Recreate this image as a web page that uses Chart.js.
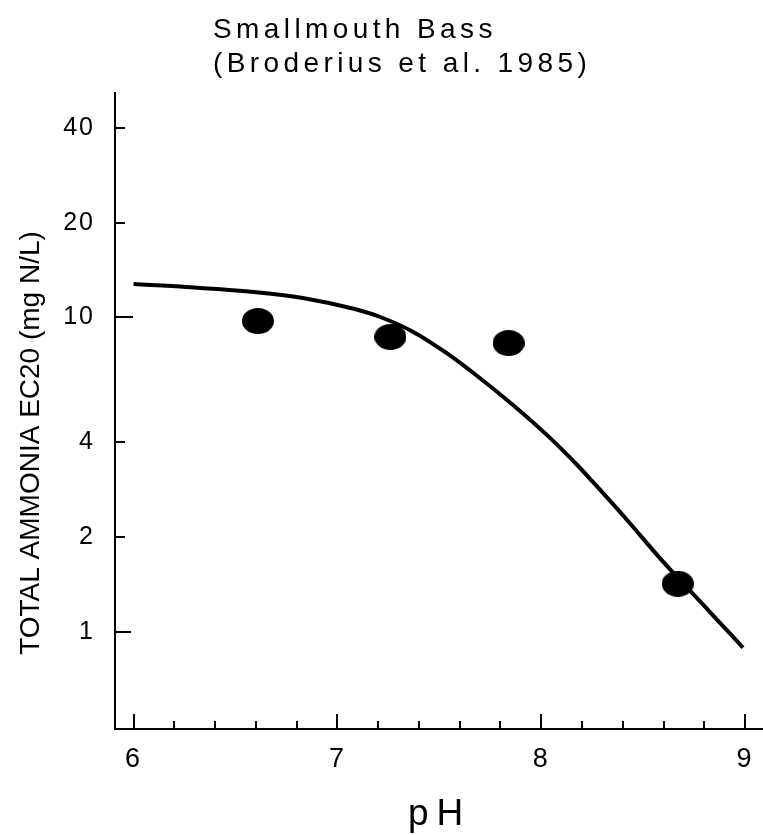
<!DOCTYPE html>
<html>
<head>
<meta charset="utf-8">
<script src="https://cdn.jsdelivr.net/npm/chart.js@4.4.1/dist/chart.umd.min.js"></script>
<style>
  html, body { margin: 0; padding: 0; background: #fff; }
  #wrap { position: relative; width: 763px; height: 835px; }
</style>
</head>
<body>
<div id="wrap"><canvas id="chart"></canvas></div>
<script>
// observed EC20 values (Broderius et al. 1985)
const obsPH = [6.61, 7.26, 7.84, 8.67];
const obsEC20 = [9.73, 8.66, 8.28, 1.42];

// fitted curve
const curvePH = [6.0, 6.26, 6.59, 6.83, 7.08, 7.21, 7.37, 7.54, 7.70, 7.86, 8.03, 8.18, 8.25, 8.42, 8.58, 8.83, 8.99];
const curveEC20 = [12.76, 12.49, 12.04, 11.52, 10.64, 10.02, 9.00, 7.66, 6.40, 5.27, 4.21, 3.37, 3.01, 2.27, 1.72, 1.15, 0.89];

const xMajorTicks = [6, 7, 8, 9];
const xMinorTicks = [6.2, 6.4, 6.6, 6.8, 7.2, 7.4, 7.6, 7.8, 8.2, 8.4, 8.6, 8.8];
const yTicks = [1, 2, 4, 10, 20, 40];

const titleLines = ["Smallmouth Bass", "(Broderius et al. 1985)"];
const yTitle = "TOTAL AMMONIA EC20 (mg N/L)";
const xTitle = "pH";

const FONT = "'Liberation Sans', Arial, sans-serif";

// the dots in the scan are a bit wider than tall
function makeDot(w, h) {
  const c = document.createElement("canvas");
  c.width = w;
  c.height = h;
  const g = c.getContext("2d");
  g.fillStyle = "#000";
  g.beginPath();
  g.ellipse(w / 2, h / 2, w / 2, h / 2, 0, 0, Math.PI * 2);
  g.fill();
  return c;
}
const dot = makeDot(32, 26);

const textPlugin = {
  id: "texts",
  beforeDraw(chart) {
    // tick labels in the scan are spaced out a little
    chart.ctx.letterSpacing = "2px";
  },
  afterDraw(chart) {
    const ctx = chart.ctx;
    const area = chart.chartArea;
    ctx.save();
    ctx.fillStyle = "#000";
    ctx.textAlign = "left";
    ctx.textBaseline = "alphabetic";

    ctx.font = "28px " + FONT;
    ctx.letterSpacing = "4.4px";
    ctx.fillText(titleLines[0], 213, 38);
    ctx.fillText(titleLines[1], 213, 72);

    ctx.font = "37px " + FONT;
    ctx.letterSpacing = "8px";
    ctx.fillText(xTitle, 408, 825);

    ctx.font = "28px " + FONT;
    ctx.letterSpacing = "0px";
    ctx.textAlign = "center";
    ctx.textBaseline = "middle";
    ctx.translate(31, 443);
    ctx.rotate(-Math.PI / 2);
    ctx.fillText(yTitle, 0, 0);
    ctx.restore();

    // inward tick marks on both axes
    const xs = chart.scales.x, ys = chart.scales.y;
    ctx.save();
    ctx.strokeStyle = "#000";
    ctx.lineWidth = 2;
    ctx.beginPath();
    xMajorTicks.forEach(v => {
      const px = Math.round(xs.getPixelForValue(v));
      ctx.moveTo(px, area.bottom);
      ctx.lineTo(px, area.bottom - 15);
    });
    xMinorTicks.forEach(v => {
      const px = Math.round(xs.getPixelForValue(v));
      ctx.moveTo(px, area.bottom);
      ctx.lineTo(px, area.bottom - 8);
    });
    yTicks.forEach(v => {
      const py = Math.round(ys.getPixelForValue(v));
      const len = v === 10 ? 18 : (v === 1 ? 16 : 10);
      ctx.moveTo(area.left, py);
      ctx.lineTo(area.left + len, py);
    });
    ctx.stroke();
    ctx.restore();
  }
};

new Chart(document.getElementById("chart"), {
  data: {
    datasets: [
      {
        type: "line",
        data: curvePH.map((x, i) => ({ x: x, y: curveEC20[i] })),
        borderColor: "#000",
        borderWidth: 4,
        pointRadius: 0,
        cubicInterpolationMode: "monotone",
        fill: false
      },
      {
        type: "scatter",
        data: obsPH.map((x, i) => ({ x: x, y: obsEC20[i] })),
        pointStyle: dot,
        pointRadius: 13,
        pointHoverRadius: 13
      }
    ]
  },
  options: {
    responsive: true,
    maintainAspectRatio: false,
    animation: false,
    events: [],
    layout: { autoPadding: false, padding: { top: 93, right: 0, left: 0, bottom: 0 } },
    plugins: {
      legend: { display: false },
      tooltip: { enabled: false },
      title: { display: false }
    },
    scales: {
      x: {
        type: "linear",
        min: 5.909,
        max: 9.088,
        afterBuildTicks(scale) {
          scale.ticks = xMajorTicks.map(v => ({ value: v }));
        },
        afterFit(scale) {
          scale.height = 106;
          scale.paddingLeft = 0;
          scale.paddingRight = 0;
        },
        grid: { display: false, drawTicks: false },
        border: { display: true, color: "#000", width: 2 },
        ticks: {
          color: "#000",
          font: { family: FONT, size: 27 },
          padding: 14,
          maxRotation: 0,
          callback: v => String(v)
        }
      },
      y: {
        type: "logarithmic",
        min: 0.49,
        max: 51.7,
        afterBuildTicks(scale) {
          scale.ticks = yTicks.map(v => ({ value: v }));
        },
        afterFit(scale) {
          scale.width = 115;
          scale.paddingTop = 0;
          scale.paddingBottom = 0;
        },
        grid: { display: false, drawTicks: false },
        border: { display: true, color: "#000", width: 2 },
        ticks: {
          color: "#000",
          font: { family: FONT, size: 25 },
          padding: 20,
          callback: v => String(v)
        }
      }
    }
  },
  plugins: [textPlugin]
});
</script>
</body>
</html>
